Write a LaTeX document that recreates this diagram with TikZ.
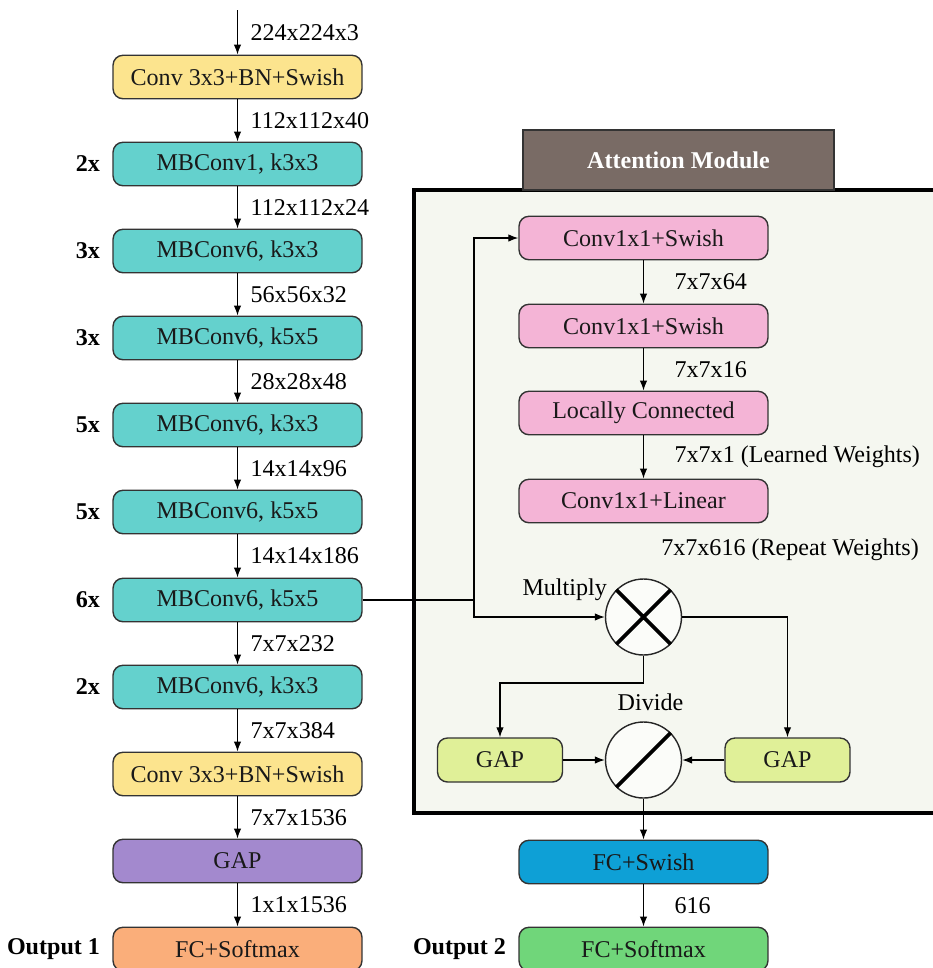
\documentclass[tikz,border=0pt]{standalone}
\usepackage{fontspec}
\setmainfont{Liberation Serif}
\usetikzlibrary{arrows.meta}
\definecolor{ConvYellow}{RGB}{252,228,142}
\definecolor{MBTeal}{RGB}{100,209,205}
\definecolor{GapPurple}{RGB}{163,137,206}
\definecolor{OutOrange}{RGB}{250,174,122}
\definecolor{AttPink}{RGB}{244,180,214}
\definecolor{GapLime}{RGB}{224,240,152}
\definecolor{FcBlue}{RGB}{14,160,214}
\definecolor{OutGreen}{RGB}{112,214,122}
\definecolor{HeadBrown}{RGB}{121,107,101}
\definecolor{PanelFill}{RGB}{245,247,240}
\newcommand\MBStage[4]{% name, y, repeats, text
    \node[block, fill=MBTeal] (#1) at (237.5,#2) {#4};
    \node[repeats] at (#1.west) {#3};
}
\newcommand\FlowArrow[4][dims]{%
    \draw[flow,->] (#2) -- (#3) node[#1] {#4};
}
\tikzset{
    block/.style={draw=black!80, line width=0.8pt, rounded corners=0.2cm,
        minimum width=4.98cm, minimum height=0.87cm, inner sep=0pt, text=black!90},
    smallblock/.style={block, minimum width=2.5cm, minimum height=0.88cm, fill=GapLime},
    opcircle/.style={circle, draw=black!85, line width=0.8pt, fill=white!60!PanelFill,
        minimum size=1.52cm, inner sep=0pt},
    repeats/.style={anchor=east, xshift=-0.24cm, inner sep=0pt,
        font=\fontsize{13.7}{16}\selectfont\bfseries},
    dims/.style={midway, anchor=west, xshift=0.25cm, inner sep=0pt},
    attdims/.style={dims, xshift=0.36cm},
    flow/.style={line width=0.7pt},
}

\begin{document}
\begin{tikzpicture}[x=0.02cm, y=-0.02cm, font=\fontsize{13.7}{16}\selectfont,
    >={Latex[length=0.2cm,width=0.15cm]}]
    \useasboundingbox (0,0) rectangle (933,968);
    \fill[white] (0,0) rectangle (933,968);

    % attention panel
    \draw[line width=2pt, fill=PanelFill] (414,190) rectangle (960,813);
    \node[draw=black!80, line width=0.8pt, fill=HeadBrown, text=white,
        font=\fontsize{13.7}{16}\selectfont\bfseries,
        minimum width=6.22cm, minimum height=1.2cm] (AttHead) at (678.5,160) {Attention Module};

    % backbone
    \coordinate (Input) at (237.5,10);
    \node[block, fill=ConvYellow] (StemConv) at (237.5,77) {Conv 3x3+BN+Swish};
    \MBStage{BlockA}{164}{2x}{MBConv1, k3x3}
    \MBStage{BlockB}{251}{3x}{MBConv6, k3x3}
    \MBStage{BlockC}{338}{3x}{MBConv6, k5x5}
    \MBStage{BlockD}{425}{5x}{MBConv6, k3x3}
    \MBStage{BlockE}{512}{5x}{MBConv6, k5x5}
    \MBStage{BlockF}{600}{6x}{MBConv6, k5x5}
    \MBStage{BlockG}{687}{2x}{MBConv6, k3x3}
    \node[block, fill=ConvYellow] (TopConv) at (237.5,774) {Conv 3x3+BN+Swish};
    \node[block, fill=GapPurple] (TopGap) at (237.5,861) {GAP};
    \node[block, fill=OutOrange] (OutOne) at (237.5,949) {FC+Softmax};
    \node[repeats] at (OutOne.west) {Output 1};

    \FlowArrow{Input}{StemConv}{224x224x3}
    \FlowArrow{StemConv}{BlockA}{112x112x40}
    \FlowArrow{BlockA}{BlockB}{112x112x24}
    \FlowArrow{BlockB}{BlockC}{56x56x32}
    \FlowArrow{BlockC}{BlockD}{28x28x48}
    \FlowArrow{BlockD}{BlockE}{14x14x96}
    \FlowArrow{BlockE}{BlockF}{14x14x186}
    \FlowArrow{BlockF}{BlockG}{7x7x232}
    \FlowArrow{BlockG}{TopConv}{7x7x384}
    \FlowArrow{TopConv}{TopGap}{7x7x1536}
    \FlowArrow{TopGap}{OutOne}{1x1x1536}

    % attention branch
    \node[block, fill=AttPink] (AttConvA) at (643.5,238) {Conv1x1+Swish};
    \node[block, fill=AttPink] (AttConvB) at (643.5,326) {Conv1x1+Swish};
    \node[block, fill=AttPink] (AttLocal) at (643.5,413) {Locally Connected};
    \node[block, fill=AttPink] (AttLinear) at (643.5,501) {Conv1x1+Linear};
    \node[anchor=west, inner sep=0pt] (RepeatNote) at (661,550) {7x7x616 (Repeat Weights)};
    \FlowArrow[attdims]{AttConvA}{AttConvB}{7x7x64}
    \FlowArrow[attdims]{AttConvB}{AttLocal}{7x7x16}
    \FlowArrow[attdims]{AttLocal}{AttLinear}{7x7x1 (Learned Weights)}

    \node[opcircle] (MulNode) at (643.5,617) {};
    \draw[line width=2.2pt] (MulNode.north west) -- (MulNode.south east)
        (MulNode.north east) -- (MulNode.south west);
    \node[anchor=east, inner sep=0pt] (MulLabel) at ([xshift=-0.18cm]MulNode.north west) {Multiply};

    \node[opcircle] (DivNode) at (643.5,760) {};
    \draw[line width=2.2pt] (DivNode.south west) -- (DivNode.north east);
    \node[above=0.2cm, inner sep=0pt, xshift=0.14cm] (DivLabel) at (DivNode.north) {Divide};

    \node[smallblock] (GapLeft) at (500,760) {GAP};
    \node[smallblock] (GapRight) at (787.5,760) {GAP};

    \coordinate (Split) at (474,600);
    \coordinate (MulDrop) at (643.5,683);
    \draw[flow] (BlockF.east) -- (Split);
    \draw[flow,->] (Split) |- (AttConvA.west);
    \draw[flow,->] (Split) |- (MulNode.west);
    \draw[flow,->] (MulNode.east) -| (GapRight.north);
    \draw[flow,->] (MulNode.south) -- (MulDrop) -| (GapLeft.north);
    \draw[flow,->] (GapLeft) -- (DivNode);
    \draw[flow,->] (GapRight) -- (DivNode);

    % second head
    \node[block, fill=FcBlue] (FcSwish) at (643.5,862) {FC+Swish};
    \node[block, fill=OutGreen] (OutTwo) at (643.5,949) {FC+Softmax};
    \node[repeats] at (OutTwo.west) {Output 2};
    \draw[flow,->] (DivNode) -- (FcSwish);
    \FlowArrow[attdims]{FcSwish}{OutTwo}{616}
\end{tikzpicture}
\end{document}
